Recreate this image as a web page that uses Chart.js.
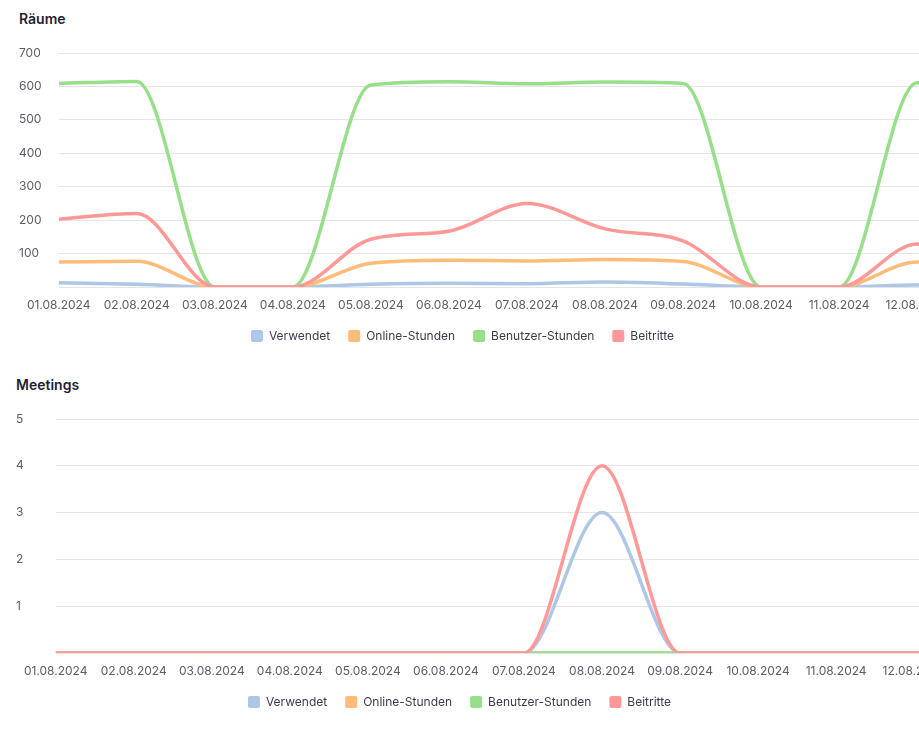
<!DOCTYPE html>
<html>
<head>
<meta charset="utf-8">
<script src="https://cdn.jsdelivr.net/npm/chart.js@4.4.1/dist/chart.umd.min.js"></script>
<style>
  html, body { margin: 0; padding: 0; background: #fff; width: 919px; height: 732px; overflow: hidden; }
  .title { position: absolute; font-family: Inter, sans-serif; font-weight: 600; font-size: 14px; line-height: 14px; color: #1f1f33; margin: 0; }
  .box { position: absolute; width: 925px; height: 312px; }
</style>
</head>
<body>
<h2 class="title" style="left:19px; top:12px;">Räume</h2>
<div class="box" style="left:0px; top:40px;"><canvas id="rooms"></canvas></div>
<h2 class="title" style="left:16px; top:378px;">Meetings</h2>
<div class="box" style="left:-3px; top:406px;"><canvas id="meetings"></canvas></div>
<script>
// Category labels (x axis)
const dates = ['01.08.2024', '02.08.2024', '03.08.2024', '04.08.2024', '05.08.2024', '06.08.2024',
               '07.08.2024', '08.08.2024', '09.08.2024', '10.08.2024', '11.08.2024', '12.08.2024', '13.08.2024'];
const seriesNames = ['Verwendet', 'Online-Stunden', 'Benutzer-Stunden', 'Beitritte'];
const seriesColors = ['#aec7e8', '#ffbb78', '#98df8a', '#ff9896'];

// Räume
const roomsVerwendet      = [13, 8, 0, 0, 8, 11, 10, 15, 9, 0, 0, 6, 5];
const roomsOnlineStunden  = [75, 77, 0, 0, 71, 80, 78, 82, 76, 0, 0, 75, 72];
const roomsBenutzerStunden = [609, 615, 0, 0, 604, 614, 608, 613, 609, 0, 0, 611, 606];
const roomsBeitritte      = [203, 220, 0, 0, 143, 167, 250, 174, 138, 0, 0, 129, 120];

// Meetings
const meetVerwendet       = [0, 0, 0, 0, 0, 0, 0, 3, 0, 0, 0, 0, 0];
const meetOnlineStunden   = [0, 0, 0, 0, 0, 0, 0, 0, 0, 0, 0, 0, 0];
const meetBenutzerStunden = [0, 0, 0, 0, 0, 0, 0, 0, 0, 0, 0, 0, 0];
const meetBeitritte       = [0, 0, 0, 0, 0, 0, 0, 4, 0, 0, 0, 0, 0];

// y-axis tick settings
const roomsYMax = 700, roomsYStep = 100;
const meetYMax = 5, meetYStep = 1;

Chart.defaults.font.family = 'Inter, sans-serif';
Chart.defaults.font.size = 12;

const tickColor = '#5c5c6b';
const legendColor = '#3c3c4e';
const xVisibleMax = 11.1;

const yLabelLeft = {
  id: 'yLabelLeft',
  afterLayout(chart) { chart.scales.y.left = 19; }
};

function makeChart(id, series, yMax, yStep) {
  return new Chart(document.getElementById(id), {
    type: 'line',
    data: {
      datasets: series.map((vals, k) => ({
        label: seriesNames[k],
        data: vals.map((v, i) => ({ x: i, y: v })),
        borderColor: seriesColors[k],
        backgroundColor: seriesColors[k],
        borderWidth: 3.5,
        pointRadius: 0,
        pointHoverRadius: 0,
        cubicInterpolationMode: 'monotone',
        fill: false,
        order: series.length - k
      }))
    },
    options: {
      responsive: true,
      maintainAspectRatio: false,
      animation: false,
      layout: { padding: { top: 13, left: 0, right: 0, bottom: 0 } },
      plugins: {
        title: { display: false },
        tooltip: { enabled: false },
        legend: {
          position: 'bottom',
          labels: {
            boxWidth: 12,
            boxHeight: 12,
            padding: 18,
            color: legendColor,
            useBorderRadius: true,
            borderRadius: 2,
            font: { size: 12 },
            sort: (a, b) => a.datasetIndex - b.datasetIndex,
            generateLabels(chart) {
              const items = Chart.defaults.plugins.legend.labels.generateLabels(chart);
              items.forEach(it => { it.lineWidth = 0; it.fillStyle = seriesColors[it.datasetIndex]; });
              return items;
            }
          }
        }
      },
      scales: {
        x: {
          type: 'linear',
          min: 0,
          max: xVisibleMax,
          grid: { display: false, drawTicks: false },
          border: { display: false },
          ticks: {
            stepSize: 1,
            includeBounds: false,
            autoSkip: false,
            maxRotation: 0,
            minRotation: 0,
            padding: 11,
            color: tickColor,
            font: { size: 12 },
            callback: v => (Number.isInteger(v) && dates[v]) ? dates[v] : ''
          },
          afterFit: s => { s.paddingRight = 0; s.height = 25; }
        },
        y: {
          min: 0,
          max: yMax,
          grid: { color: 'rgba(0,0,0,0.1)', drawTicks: false },
          border: { display: false },
          ticks: {
            stepSize: yStep,
            crossAlign: 'far',
            color: tickColor,
            font: { size: 12 },
            callback: v => v === 0 ? '' : v
          },
          afterFit: s => { s.width = 58.7; }
        }
      }
    },
    plugins: [yLabelLeft]
  });
}

makeChart('rooms', [roomsVerwendet, roomsOnlineStunden, roomsBenutzerStunden, roomsBeitritte], roomsYMax, roomsYStep);
makeChart('meetings', [meetVerwendet, meetOnlineStunden, meetBenutzerStunden, meetBeitritte], meetYMax, meetYStep);
</script>
</body>
</html>
